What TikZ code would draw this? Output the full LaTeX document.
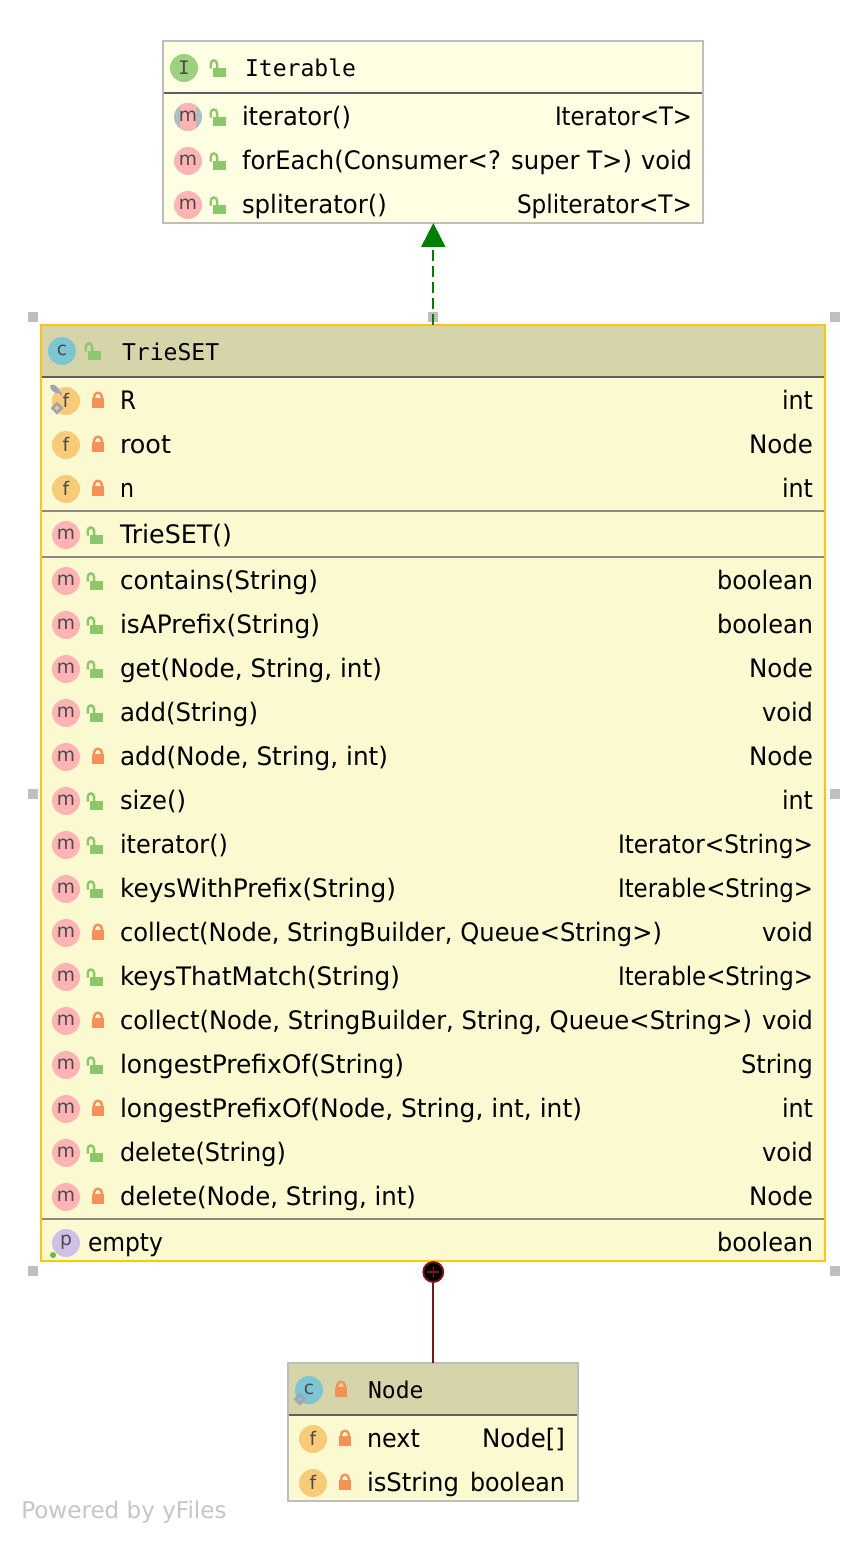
\documentclass[tikz,border=0pt]{standalone}
\usepackage{graphicx}
\usepackage{fontspec}
\setmainfont{DejaVu Sans}
\newfontfamily\monof{DejaVu Sans Mono}
\definecolor{hdr}{HTML}{D6D4A9}
\definecolor{bodyc}{HTML}{FBF9D0}
\definecolor{ifc}{HTML}{FFFFE4}
\definecolor{gborder}{HTML}{BDBDBD}
\definecolor{selc}{HTML}{FDC606}
\definecolor{sepc}{HTML}{5E5E5E}
\definecolor{sepd}{HTML}{8A8A80}
\definecolor{mic}{HTML}{FEB4B4}
\definecolor{fic}{HTML}{F7CB78}
\definecolor{cic}{HTML}{7CC5D2}
\definecolor{iic}{HTML}{9DD17F}
\definecolor{pic}{HTML}{D1BFE8}
\definecolor{abic}{HTML}{AFBDC4}
\definecolor{glock}{HTML}{8CC76C}
\definecolor{olock}{HTML}{F69056}
\definecolor{letc}{HTML}{4A4A4A}
\definecolor{pinc}{HTML}{9EA6B4}
\definecolor{handc}{HTML}{BFBFBF}
\definecolor{arrowg}{HTML}{008000}
\definecolor{nestc}{HTML}{7F1416}
\definecolor{dotc}{HTML}{5DBB46}
\definecolor{powc}{HTML}{C6C6C6}
\usetikzlibrary{arrows.meta}
\tikzset{
  x=0.75pt,y=-0.75pt,
  txt/.style={inner sep=0pt,outer sep=0pt,font=\fontsize{18}{20}\selectfont,text=black},
  ttl/.style={inner sep=0pt,outer sep=0pt,font=\fontsize{17.3}{20}\monof\selectfont,text=black,anchor=base west},
  iconl/.style={inner sep=0pt,outer sep=0pt,font=\fontsize{14}{15}\selectfont,text=letc},
  classbox/.style={draw=#1,line width=1.5pt,inner sep=0pt,outer sep=0pt,rectangle},
  handle/.style={fill=handc,draw=none,inner sep=0pt,minimum size=7.5pt,rectangle},
  seprule/.style={line width=1.5pt,draw=#1},
}
% icon: x, y, colour, letter
\newcommand{\icn}[4]{\fill[#3] (#1,#2) circle[radius=14];\node[iconl] at (#1,#2-0.5) {#4};}
\newcommand{\lockopen}[2]{%
  \begin{scope}[shift={(#1,#2)}]
  \fill[glock] (-6,0) rectangle (7,9);
  \draw[glock,line width=1.8pt] (-8.3,0.5) -- (-8.3,-4) arc[start angle=180,end angle=360,x radius=3.2,y radius=3.6] -- (-1.9,1);
  \end{scope}}
\newcommand{\lockshut}[2]{%
  \begin{scope}[shift={(#1,#2)}]
  \fill[olock] (-6,-3) rectangle (6,6.5);
  \draw[olock,line width=1.8pt] (-3.8,-2) -- (-3.8,-4.5) arc[start angle=180,end angle=360,radius=3.8] -- (3.8,-2);
  \end{scope}}
\newcommand{\pinbadge}[2]{%
  \fill[pinc,rotate around={-40:(#1,#2)}] (#1,#2) ellipse[x radius=6,y radius=3];
  \fill[pinc] (#1+2.5,#2+2.5) -- (#1+6.5,#2+2.5) -- (#1+6.5,#2+6.5) -- cycle;}
\newcommand{\diamondbadge}[3]{%
  \fill[pinc] (#1-6.5,#2) -- (#1,#2-6.5) -- (#1+6.5,#2) -- (#1,#2+6.5) -- cycle;
  \fill[#3] (#1-2.5,#2) -- (#1,#2-2.5) -- (#1+2.5,#2) -- (#1,#2+2.5) -- cycle;}
% text fitted between two pixel columns: from x, to x, row y, text
\newcommand{\lft}[4]{\node[txt,anchor=base west] at (#1,#3+8.5) {\resizebox{\dimexpr 0.75pt*\numexpr #2-#1\relax\relax}{1.06\height}{#4}};}
% TrieSET rows: y, open?, name, end of name, start of type, type
\newcommand{\tm}[6]{\icn{66}{#1}{mic}{m}\ifnum#2=1 \lockopen{96}{#1}\else\lockshut{98}{#1}\fi
  \lft{120}{#4}{#1}{#3}\lft{#5}{813}{#1}{#6}}
\newcommand{\tf}[5]{\icn{66}{#1}{fic}{f}\lockshut{98}{#1}\lft{120}{#3}{#1}{#2}\lft{#4}{813}{#1}{#5}}
\begin{document}
\begin{tikzpicture}
\useasboundingbox (0,0) rectangle (866,1542);
\fill[white] (0,0) rectangle (866,1542);

% ---------- Iterable
\node[classbox=gborder,fill=ifc,minimum width=405pt,minimum height=136.5pt] (iter) at (433.3,132) {};
\draw[seprule=sepc] (164,93) -- (702,93);
\icn{184}{68}{iic}{\monof I}
\lockopen{219}{68}
\node[ttl] (itertitle) at (245,76) {Iterable};
\fill[abic] (188,117) circle[radius=14];
\begin{scope}
\clip (180,100) rectangle (196,134);
\fill[mic] (188,117) circle[radius=14];
\end{scope}
\node[iconl] at (188,116.5) {m};
\lockopen{219}{117}
\lft{242}{351}{117}{iterator()}\lft{555}{692}{117}{Iterator<T>}
\icn{188}{161}{mic}{m}\lockopen{219}{161}
\lft{242}{632}{161}{forEach(Consumer<? super T>)}\lft{641}{692}{161}{void}
\icn{188}{205}{mic}{m}\lockopen{219}{205}
\lft{242}{387}{205}{spliterator()}\lft{517}{692}{205}{Spliterator<T>}

% ---------- TrieSET
\node[classbox=selc,fill=bodyc,minimum width=588pt,minimum height=702pt] (trie) at (433.3,793) {};
\fill[hdr] (42,326) rectangle (824,377);
\draw[seprule=sepc] (42,377) -- (824,377);
\draw[seprule=sepd] (42,511) -- (824,511);
\draw[seprule=sepd] (42,557) -- (824,557);
\draw[seprule=sepd] (42,1219) -- (824,1219);
\draw[selc,line width=1.5pt] (trie.north west) rectangle (trie.south east);
\icn{62}{351}{cic}{c}
\lockopen{94}{351}
\node[ttl] (trietitle) at (122,360) {TrieSET};
\tf{401}{R}{136}{782}{int}
\pinbadge{55}{389}
\diamondbadge{57}{408}{fic}
\tf{445}{root}{171}{749}{Node}
\tf{489}{n}{134}{782}{int}
\icn{66}{535}{mic}{m}\lockopen{96}{535}\lft{120}{232}{535}{TrieSET()}
\tm{581}{1}{contains(String)}{318}{717}{boolean}
\tm{625}{1}{isAPrefix(String)}{320}{717}{boolean}
\tm{669}{1}{get(Node, String, int)}{382}{749}{Node}
\tm{713}{1}{add(String)}{258}{762}{void}
\tm{757}{0}{add(Node, String, int)}{388}{749}{Node}
\tm{801}{1}{size()}{186}{782}{int}
\tm{845}{1}{iterator()}{228}{618}{Iterator<String>}
\tm{889}{1}{keysWithPrefix(String)}{396}{618}{Iterable<String>}
\tm{933}{0}{collect(Node, StringBuilder, Queue<String>)}{662}{762}{void}
\tm{977}{1}{keysThatMatch(String)}{400}{618}{Iterable<String>}
\tm{1021}{0}{collect(Node, StringBuilder, String, Queue<String>)}{752}{762}{void}
\tm{1065}{1}{longestPrefixOf(String)}{404}{741}{String}
\tm{1109}{0}{longestPrefixOf(Node, String, int, int)}{582}{782}{int}
\tm{1153}{1}{delete(String)}{286}{762}{void}
\tm{1197}{0}{delete(Node, String, int)}{416}{749}{Node}
\icn{66}{1243}{pic}{p}
\fill[dotc] (53,1255) circle[radius=3];
\lft{88}{163}{1243}{empty}\lft{717}{813}{1243}{boolean}

% selection handles
\node[handle] (h1) at (33,317) {};
\node[handle] (h2) at (433.3,317) {};
\node[handle] (h3) at (835,317) {};
\node[handle] (h4) at (33,794) {};
\node[handle] (h5) at (835,794) {};
\node[handle] (h6) at (33,1271) {};
\node[handle] (h7) at (835,1271) {};

% ---------- Node
\node[classbox=gborder,fill=bodyc,minimum width=217.5pt,minimum height=103.5pt] (nodebox) at (433.3,1432) {};
\fill[hdr] (289,1364) rectangle (577,1415);
\draw[seprule=sepc] (289,1415) -- (577,1415);
\icn{309}{1390}{cic}{c}
\diamondbadge{300}{1399}{cic}
\lockshut{341}{1390}
\node[ttl] (nodetitle) at (368,1398) {Node};
\icn{313}{1439}{fic}{f}\lockshut{345}{1439}
\lft{367}{420}{1439}{next}\lft{482}{565}{1439}{Node[]}
\icn{313}{1483}{fic}{f}\lockshut{345}{1483}
\lft{367}{459}{1483}{isString}\lft{470}{565}{1483}{boolean}

% ---------- connectors
\draw[arrowg,line width=1.5pt,dash pattern=on 8pt off 4pt,
  -{Triangle[length=18pt,width=18pt]}] (trie.north) -- (iter.south);
\node[circle,fill=black,draw=nestc,line width=1.4pt,minimum size=15pt,inner sep=0pt] (nest) at (433.3,1272) {};
\draw[nestc,line width=1pt] (427.3,1272) -- (439.3,1272) (433.3,1266) -- (433.3,1278);
\draw[nestc,line width=1.5pt] (nest.south) -- (nodebox.north);

\node[inner sep=0pt,anchor=base west,text=powc,font=\fontsize{17.3}{20}\selectfont] (pow) at (21,1518) {Powered by yFiles};
\end{tikzpicture}
\end{document}
